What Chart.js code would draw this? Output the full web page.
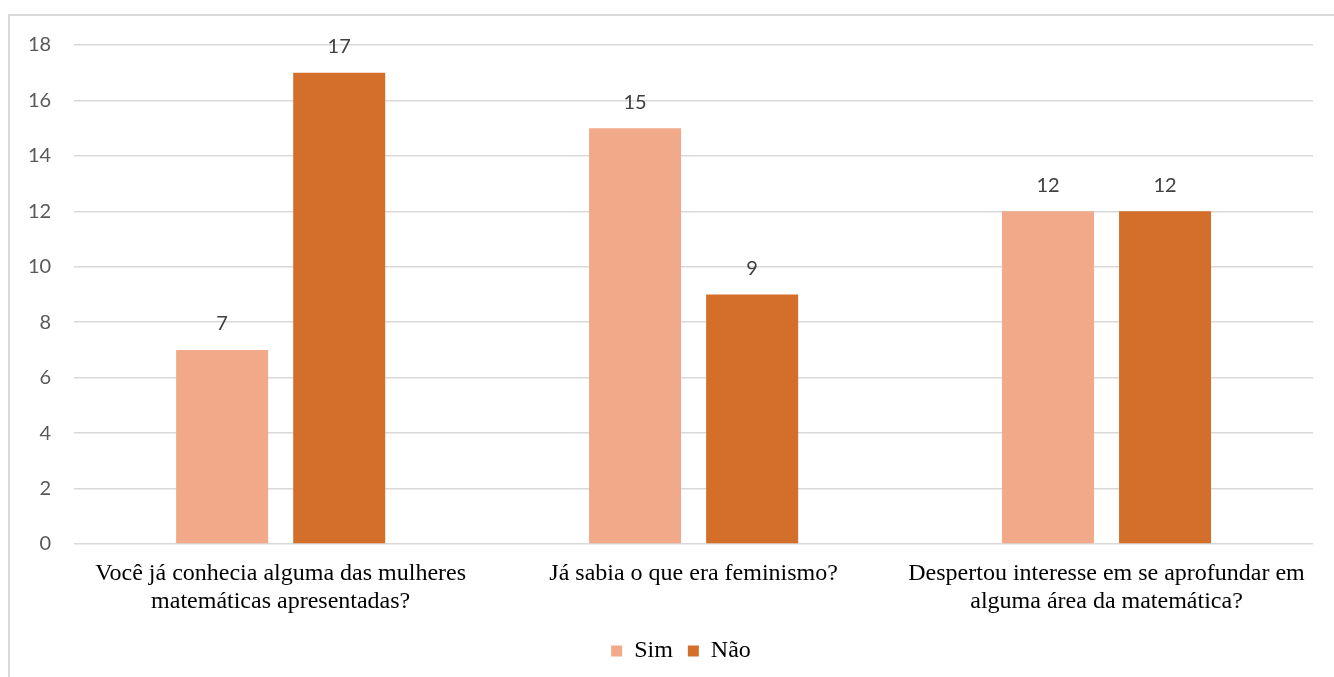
<!DOCTYPE html>
<html>
<head>
<meta charset="utf-8">
<script src="https://cdn.jsdelivr.net/npm/chart.js@4"></script>
<style>
  html, body { margin: 0; padding: 0; background: #fff; overflow: hidden; }
  #wrap { position: relative; width: 1334px; height: 677px; }
  #frame { position: absolute; left: 8px; top: 14px; width: 1400px; height: 700px;
           border: 2px solid #d9d9d9; box-sizing: border-box; }
  #chart { position: absolute; left: 0; top: 0; }
</style>
</head>
<body>
<div id="wrap">
  <div id="frame"></div>
  <canvas id="chart" width="1334" height="677"></canvas>
</div>
<script>
// categories (wrapped as in the original)
const categories = [
    ['Você já conhecia alguma das mulheres', 'matemáticas apresentadas?'],
    ['Já sabia o que era feminismo?'],
    ['Despertou interesse em se aprofundar em', 'alguma área da matemática?']
];
const simValues = [7, 15, 12];
const naoValues = [17, 9, 12];
const yTicks = [0, 2, 4, 6, 8, 10, 12, 14, 16, 18];

const serif = '"Liberation Serif", "Times New Roman", serif';

// value labels above each bar
const barValues = {
    id: 'barValues',
    afterDatasetsDraw(chart) {
        const ctx = chart.ctx;
        ctx.save();
        ctx.font = '20px Lato, "Open Sans", sans-serif';
        ctx.fillStyle = '#404040';
        ctx.textAlign = 'center';
        ctx.textBaseline = 'middle';
        chart.data.datasets.forEach((ds, i) => {
            chart.getDatasetMeta(i).data.forEach((bar, j) => {
                ctx.fillText(String(ds.data[j]), bar.x, bar.y - 26);
            });
        });
        ctx.restore();
    }
};

// legend sits a bit right of the canvas centre in the original
const legendShift = {
    id: 'legendShift',
    afterLayout(chart) {
        if (chart.legend) {
            chart.legend.left += 22;
            chart.legend.right += 22;
        }
    }
};

new Chart(document.getElementById('chart').getContext('2d'), {
    type: 'bar',
    data: {
        labels: categories,
        datasets: [{
            label: 'Sim',
            data: simValues,
            backgroundColor: '#F1A98A',
            borderWidth: 0
        }, {
            label: 'Não',
            data: naoValues,
            backgroundColor: '#D36F2B',
            borderWidth: 0
        }]
    },
    options: {
        responsive: false,
        animation: false,
        categoryPercentage: 0.567,
        barPercentage: 0.786,
        layout: {
            padding: { top: 45, right: 21, bottom: 4, left: 5 }
        },
        plugins: {
            legend: {
                position: 'bottom',
                labels: {
                    boxWidth: 11,
                    boxHeight: 11,
                    padding: 15,
                    color: '#000',
                    font: { family: serif, size: 24 }
                }
            },
            tooltip: { enabled: false }
        },
        scales: {
            x: {
                grid: { display: false, drawTicks: false },
                border: { display: false },
                afterFit: axis => { axis.height = 80; },
                ticks: {
                    color: '#000',
                    padding: 16,
                    maxRotation: 0,
                    autoSkip: false,
                    font: { family: serif, size: 24, lineHeight: 1.17 }
                }
            },
            y: {
                min: 0,
                max: 18,
                afterBuildTicks: axis => { axis.ticks = yTicks.map(v => ({ value: v })); },
                grid: { color: '#d9d9d9', lineWidth: 1.5, drawTicks: false },
                border: { display: false },
                ticks: {
                    color: '#595959',
                    padding: 23,
                    font: { family: 'Lato, "Open Sans", sans-serif', size: 20 }
                }
            }
        }
    },
    plugins: [barValues, legendShift]
});
</script>
</body>
</html>
